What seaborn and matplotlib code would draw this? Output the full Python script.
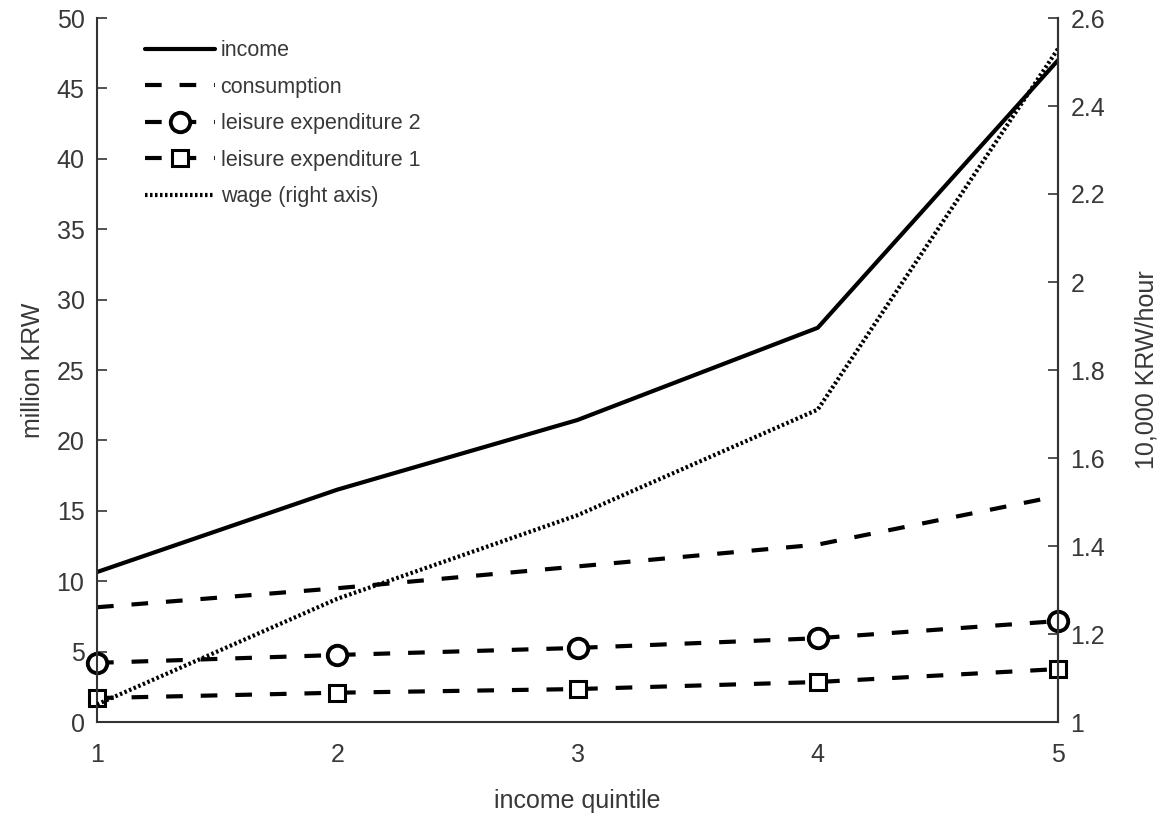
import matplotlib
matplotlib.use("Agg")
import matplotlib.pyplot as plt
import seaborn as sns
import pandas as pd

quintile = [1, 2, 3, 4, 5]
income = [10.65, 16.5, 21.45, 28.0, 47.0]
consumption = [8.15, 9.5, 11.05, 12.6, 16.05]
leisure2 = [4.2, 4.76, 5.26, 5.95, 7.17]
leisure1 = [1.7, 2.08, 2.34, 2.84, 3.76]
wage = [1.04, 1.28, 1.47, 1.71, 2.53]

sns.set_theme(style="white")
plt.rcParams['font.family'] = ['Liberation Sans', 'DejaVu Sans']

fig = plt.figure(figsize=(11.69, 8.18), dpi=100)
ax = fig.add_axes([97/1169, 1 - 722/818, (1058-97)/1169, (722-18)/818])
ax2 = ax.twinx()

lw = 3.0
dash = (0, (4, 4.3))
df = pd.DataFrame({"q": quintile, "income": income, "consumption": consumption,
                   "l2": leisure2, "l1": leisure1, "wage": wage})

sns.lineplot(data=df, x="q", y="income", ax=ax, color="black", lw=lw, label="income", legend=False)
sns.lineplot(data=df, x="q", y="consumption", ax=ax, color="black", lw=lw,
             linestyle=dash, label="consumption", legend=False)
sns.lineplot(data=df, x="q", y="l2", ax=ax, color="black", lw=lw, linestyle=dash,
             marker="o", markersize=14, markerfacecolor="white", markeredgecolor="black",
             markeredgewidth=2.8, label="leisure expenditure 2", legend=False, clip_on=False)
sns.lineplot(data=df, x="q", y="l1", ax=ax, color="black", lw=lw, linestyle=dash,
             marker="s", markersize=11, markerfacecolor="white", markeredgecolor="black",
             markeredgewidth=2.2, label="leisure expenditure 1", legend=False, clip_on=False)
sns.lineplot(data=df, x="q", y="wage", ax=ax2, color="black", lw=lw, linestyle=(0, (0.6, 0.6)),
             label="wage (right axis)", legend=False)

ax.set_xlim(1, 5)
ax.set_ylim(0, 50)
ax2.set_ylim(1, 2.6)
ax.set_xticks([1, 2, 3, 4, 5])
ax.set_yticks(range(0, 51, 5))
ax2.set_yticks([1, 1.2, 1.4, 1.6, 1.8, 2, 2.2, 2.4, 2.6])
ax2.set_yticklabels(["1", "1.2", "1.4", "1.6", "1.8", "2", "2.2", "2.4", "2.6"])

tc = "#383838"
for a in (ax, ax2):
    a.tick_params(direction="in", length=7, width=1.2, colors="#333333", labelsize=18,
                  labelcolor=tc, pad=9)
    for s in a.spines.values():
        s.set_color("#333333")
        s.set_linewidth(1.5)
    a.spines["top"].set_visible(False)
ax.tick_params(axis="y", right=False, left=True)
ax.tick_params(axis="x", pad=15)
ax2.spines["left"].set_visible(False)
ax2.spines["bottom"].set_visible(False)

ax.set_xlabel("income quintile", fontsize=18, color=tc, labelpad=16)
ax.set_ylabel("million KRW", fontsize=18, color=tc, labelpad=8)
ax2.set_ylabel("10,000 KRW/hour", fontsize=18, color=tc, labelpad=21)

h1, l1 = ax.get_legend_handles_labels()
h2, l2 = ax2.get_legend_handles_labels()
leg = ax.legend(h1 + h2, l1 + l2, loc="upper left", bbox_to_anchor=(0.03, 0.996), frameon=False,
                fontsize=15.5, handlelength=3.25, handletextpad=0.25, labelspacing=0.72,
                labelcolor=tc)

fig.savefig("out.png", dpi=100)
